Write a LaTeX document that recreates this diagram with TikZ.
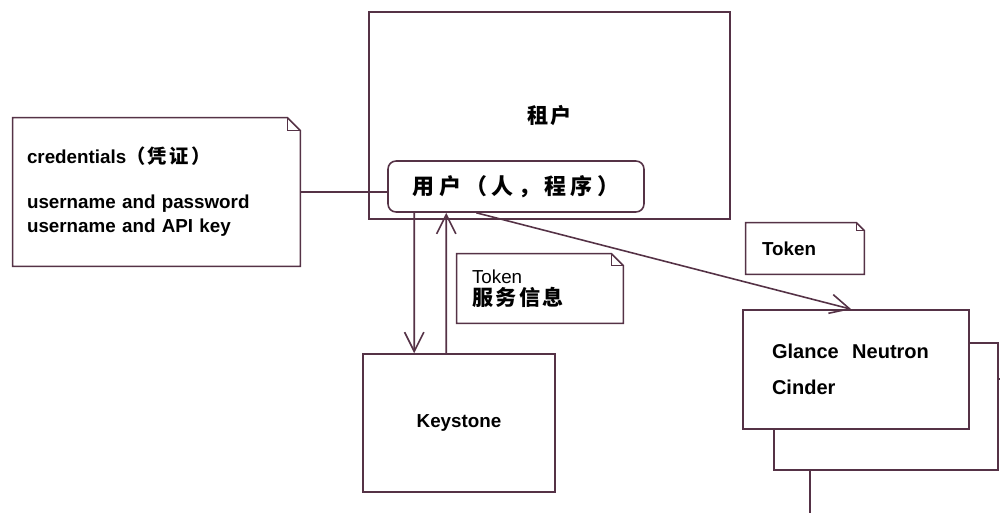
\documentclass[tikz,border=0pt]{standalone}
\usepackage{fontspec}
\setmainfont{Liberation Sans}
\newfontfamily\cjk{Noto Sans CJK SC}[LetterSpace=12]
\newfontfamily\cjkwide{Noto Sans CJK SC}[LetterSpace=20]
\usetikzlibrary{arrows.meta,calc}
\definecolor{edge}{RGB}{85,50,70}

\begin{document}
\begin{tikzpicture}[
  x=0.02cm, y=-0.02cm,
  box/.style={draw=edge, line width=0.9pt, inner sep=0pt},
  note/.style={inner ysep=0pt, align=left, font=\bfseries\fontsize{10.7pt}{14.2pt}\selectfont},
  lbl/.style={font=\bfseries\fontsize{10.7pt}{13pt}\selectfont},
  line/.style={draw=edge, line width=0.9pt},
  arr/.style={line, -{Straight Barb[length=11pt, width=11pt]}}
]
  \useasboundingbox[fill=white] (0,0) rectangle (1000,513);

  \node[box, minimum width=7.22cm, minimum height=4.14cm] (tenant) at (549.5,115.5)
    {\cjk\bfseries\fontsize{12pt}{14pt}\selectfont 租户};
  \node[box, rounded corners=0.16cm, minimum width=5.12cm, minimum height=1.02cm] (user) at (516,186.5)
    {\cjkwide\bfseries\fontsize{12.5pt}{14pt}\selectfont 用户（人，程序）};
  \node[box, lbl, minimum width=3.84cm, minimum height=2.76cm] (keystone) at (459,423) {Keystone};

  % notes with a folded corner
  \node[note, minimum width=5.74cm, minimum height=2.96cm, inner xsep=0.28cm, text width=5.18cm] (cred) at (156.5,192)
    {credentials{\cjk\fontsize{11pt}{14.2pt}\selectfont （凭证）}\\[11pt]username and password\\username and API key};
  \node[note, minimum width=3.32cm, minimum height=1.38cm, inner xsep=0.3cm, text width=2.72cm,
    font=\fontsize{10.7pt}{12.5pt}\selectfont] (tokmid) at (540,288.5)
    {Token\\{\cjk\bfseries\fontsize{12pt}{12.5pt}\selectfont 服务信息}};
  \node[note, minimum width=2.36cm, minimum height=1.02cm, inner xsep=0.32cm, text width=1.72cm] (tokright) at (805,248.5) {Token};
  \foreach \n/\f in {cred/13, tokmid/12, tokright/8} {
    \draw[line] (\n.south west) -- (\n.north west) -- ($(\n.north east)+(-\f,0)$)
      -- ($(\n.north east)+(0,\f)$) -- (\n.south east) -- cycle;
    \draw[line, line width=0.4pt] ($(\n.north east)+(-\f,0)$) |- ($(\n.north east)+(0,\f)$);
  }

  % stacked service boxes
  \node[box, fill=white, minimum width=4.4cm, minimum height=3.22cm] (svc3) at (920,459.5) {};
  \node[box, fill=white, minimum width=4.48cm, minimum height=2.54cm] (svc2) at (886,406.5) {};
  \node[box, fill=white, lbl, align=left, minimum width=4.52cm, minimum height=2.38cm, inner xsep=0.58cm,
    text width=3.36cm, font=\bfseries\fontsize{11.4pt}{20.5pt}\selectfont] (svc1) at (856,369.5)
    {Glance\ \ Neutron\\Cinder};

  \draw[line] (cred.east) -- (cred.east -| user.west);
  \draw[arr] ($(user.south west)+(27,0)$) -- ($(keystone.north west)+(52,0)$);
  \draw[arr] ($(keystone.north west)+(84,0)$) -- ($(user.south west)+(59,0)$);
  \draw[arr] ($(user.south west)+(89,0)$) -- ($(svc1.north west)+(109,0)$);
\end{tikzpicture}
\end{document}
